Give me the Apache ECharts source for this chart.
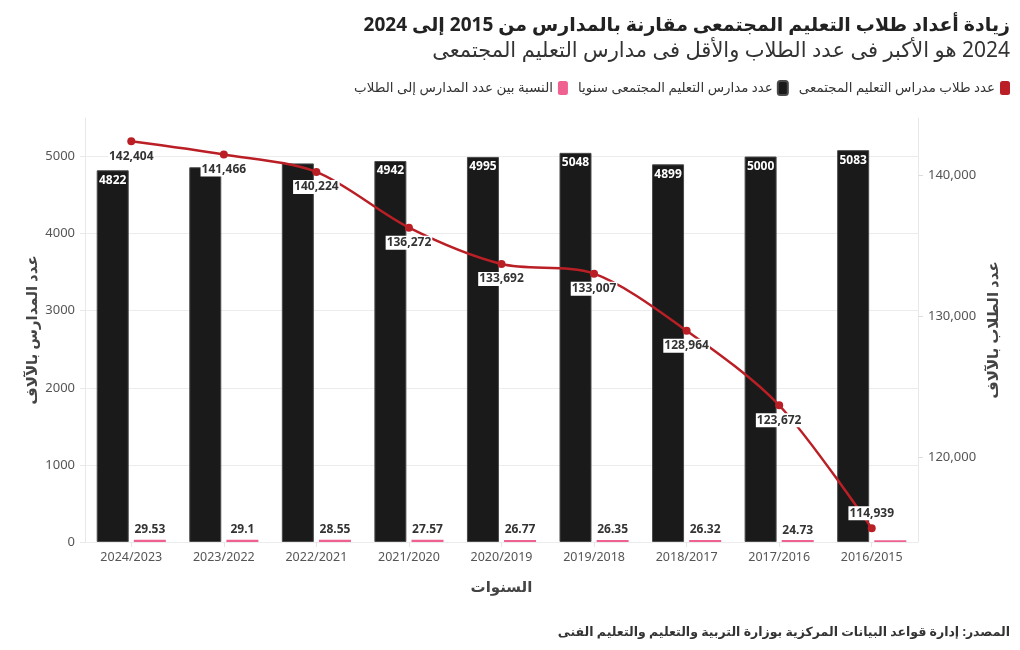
<!DOCTYPE html>
<html>
<head>
<meta charset="utf-8">
<script src="https://cdn.jsdelivr.net/npm/echarts@6/dist/echarts.min.js"></script>
<style>
html,body{margin:0;padding:0;background:#fff;}
#chart{width:1020px;height:650px;direction:rtl;}
</style>
</head>
<body>
<div id="chart"></div>
<script>
const titleText = 'زيادة أعداد طلاب التعليم المجتمعى مقارنة بالمدارس من 2015 إلى 2024';
const subtitleText = '2024 هو الأكبر فى عدد الطلاب والأقل فى مدارس التعليم المجتمعى';
const sourceText = 'المصدر: إدارة قواعد البيانات المركزية بوزارة التربية والتعليم والتعليم الفنى';
const xAxisName = 'السنوات';
const leftAxisName = 'عدد المدارس بالآلاف';
const rightAxisName = 'عدد الطلاب بالآلاف';

const seriesNames = {
  students: 'عدد طلاب مدراس التعليم المجتمعى',
  schools: 'عدد مدارس التعليم المجتمعى سنويا',
  ratio: 'النسبة بين عدد المدارس إلى الطلاب'
};

const years = ['2024/2023','2023/2022','2022/2021','2021/2020','2020/2019','2019/2018','2018/2017','2017/2016','2016/2015'];
const schools = [4822, 4861, 4911, 4942, 4995, 5048, 4899, 5000, 5083];
const ratio = [29.53, 29.1, 28.55, 27.57, 26.77, 26.35, 26.32, 24.73, 22.61];
const students = [142404, 141466, 140224, 136272, 133692, 133007, 128964, 123672, 114939];

const leftTicks = {min: 0, max: 5500, interval: 1000};
const rightRange = {min: 113970, max: 144050};
const rightTickValues = [120000, 130000, 140000];

// labels hidden in the reference (overlapped by other labels)
const hiddenSchoolLabels = [1, 2];
const hiddenRatioLabels = [8];

const FONT = "'Noto Sans', 'DejaVu Sans', sans-serif";
const chart = echarts.init(document.getElementById('chart'), null, {renderer: 'canvas'});

const option = {
  backgroundColor: '#fff',
  animation: false,
  textStyle: {fontFamily: FONT},
  title: [
    {text: titleText, right: 5, top: 11, textStyle: {fontFamily: FONT, fontSize: 19, fontWeight: 'bold', color: '#222'}},
    {text: subtitleText, right: 5, top: 36, textStyle: {fontFamily: FONT, fontSize: 21, fontWeight: 'normal', color: '#333'}},
    {text: sourceText, right: 5, top: 621, textStyle: {fontFamily: FONT, fontSize: 12.5, fontWeight: 'bold', color: '#333'}}
  ],
  legend: {
    right: 5, top: 75,
    align: 'right',
    itemWidth: 10, itemHeight: 14, itemGap: 10,
    icon: 'roundRect',
    textStyle: {fontFamily: FONT, fontSize: 13.4, color: '#333'},
    data: [seriesNames.ratio, seriesNames.schools, seriesNames.students]
  },
  grid: {left: 85, right: 102, top: 118, bottom: 108, containLabel: false},
  xAxis: {
    type: 'category',
    data: years,
    name: xAxisName,
    nameLocation: 'middle',
    nameGap: 38,
    nameMoveOverlap: false,
    nameTextStyle: {fontFamily: FONT, fontSize: 15, fontWeight: 'bold', color: '#444'},
    axisLine: {show: false},
    axisTick: {show: true, alignWithLabel: true, length: 5, lineStyle: {color: '#e6e6e6'}},
    axisLabel: {fontFamily: FONT, fontSize: 12.5, color: '#555', margin: 9},
    splitLine: {show: false}
  },
  yAxis: [
    {
      type: 'value', position: 'left',
      min: leftTicks.min, max: leftTicks.max, interval: leftTicks.interval,
      name: leftAxisName, nameLocation: 'middle', nameGap: 45, nameRotate: 90,
      nameMoveOverlap: false,
      nameTextStyle: {fontFamily: FONT, fontSize: 15, fontWeight: 'bold', color: '#444'},
      axisLine: {show: true, lineStyle: {color: '#e8e8e8'}},
      axisTick: {show: true, length: 5, lineStyle: {color: '#e8e8e8'}},
      axisLabel: {fontFamily: FONT, fontSize: 13, color: '#555', margin: 10, showMaxLabel: false, formatter: v => String(v)},
      splitLine: {show: true, showMaxLine: false, lineStyle: {color: '#ececec'}}
    },
    {
      type: 'value', position: 'right',
      min: rightRange.min, max: rightRange.max,
      name: rightAxisName, nameLocation: 'middle', nameGap: 68, nameRotate: 90,
      nameMoveOverlap: false,
      nameTextStyle: {fontFamily: FONT, fontSize: 15, fontWeight: 'bold', color: '#444'},
      axisLine: {show: true, lineStyle: {color: '#e8e8e8'}},
      axisTick: {show: true, length: 5, customValues: rightTickValues, lineStyle: {color: '#dddddd'}},
      axisLabel: {
        fontFamily: FONT, fontSize: 13, color: '#555', margin: 10,
        customValues: rightTickValues,
        formatter: v => Number(v).toLocaleString('en-US')
      },
      splitLine: {show: false}
    }
  ],
  series: [
    {
      name: seriesNames.schools,
      type: 'bar',
      yAxisIndex: 0,
      barWidth: 32,
      barGap: '16%',
      data: schools,
      itemStyle: {color: '#1a1a1a', borderColor: '#4a4a4a', borderWidth: 1},
      label: {
        show: true, position: 'insideTop', distance: 4,
        fontFamily: FONT, fontSize: 12, fontWeight: 'bold', color: '#fff',
        formatter: p => (hiddenSchoolLabels.includes(p.dataIndex) ? '' : String(p.value))
      },
      z: 2
    },
    {
      name: seriesNames.ratio,
      type: 'bar',
      yAxisIndex: 0,
      barWidth: 32,
      data: ratio,
      itemStyle: {color: '#ee6190'},
      label: {
        show: true, position: 'top', distance: 4,
        fontFamily: FONT, fontSize: 12, fontWeight: 'bold', color: '#333',
        formatter: p => (hiddenRatioLabels.includes(p.dataIndex) ? '' : String(p.value))
      },
      z: 2
    },
    {
      name: seriesNames.students,
      type: 'line',
      yAxisIndex: 1,
      smooth: 0.3,
      symbol: 'circle',
      symbolSize: 8,
      data: students.map((v, i) => i === students.length - 1 ? {value: v, label: {position: 'top'}} : v),
      itemStyle: {color: '#bb1f26'},
      lineStyle: {color: '#bb1f26', width: 2.5},
      label: {
        show: true, position: 'bottom', distance: 4,
        fontFamily: FONT, fontSize: 12, fontWeight: 'bold', color: '#333',
        backgroundColor: '#fff', padding: [1, 1],
        formatter: p => p.value.toLocaleString('en-US')
      },
      z: 5
    }
  ]
};
chart.setOption(option);
</script>
</body>
</html>
